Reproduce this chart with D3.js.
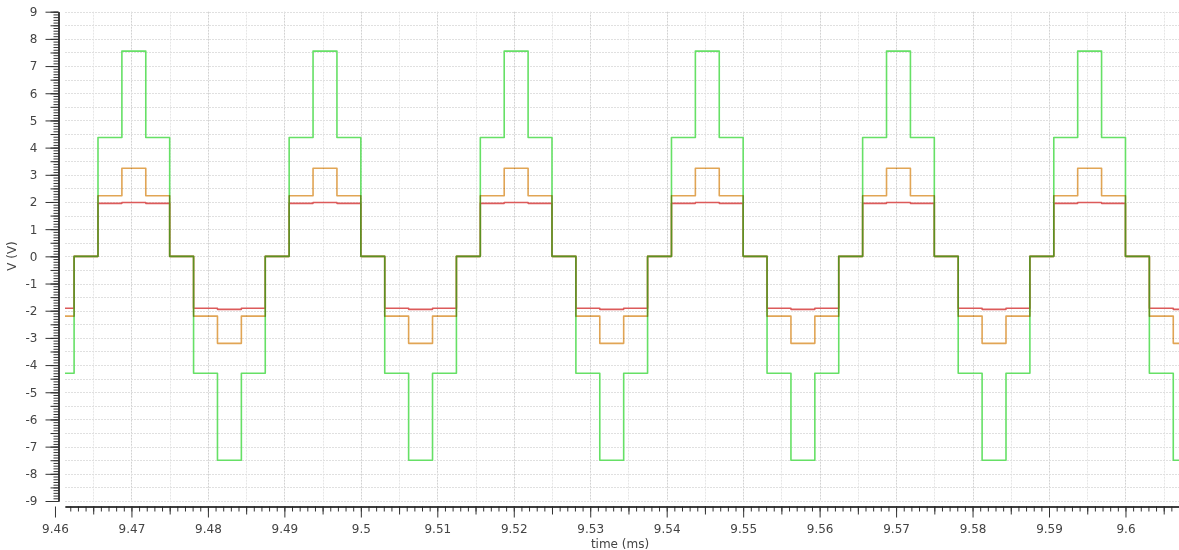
<!DOCTYPE html>
<html>
<head>
<meta charset="utf-8">
<script src="https://cdn.jsdelivr.net/npm/d3@7"></script>
<style>
  html, body { margin: 0; padding: 0; background: #fff; }
  svg { display: block; }
  text { font-family: "DejaVu Sans", sans-serif; }
</style>
</head>
<body>
<svg id="chart" width="1179" height="550"></svg>
<script>
// ---- data ----
const times = [9.46131,
  9.4625, 9.465625, 9.46875, 9.471875, 9.475, 9.478125, 9.48125, 9.484375,
  9.4875, 9.490625, 9.49375, 9.496875, 9.5, 9.503125, 9.50625, 9.509375,
  9.5125, 9.515625, 9.51875, 9.521875, 9.525, 9.528125, 9.53125, 9.534375,
  9.5375, 9.540625, 9.54375, 9.546875, 9.55, 9.553125, 9.55625, 9.559375,
  9.5625, 9.565625, 9.56875, 9.571875, 9.575, 9.578125, 9.58125, 9.584375,
  9.5875, 9.590625, 9.59375, 9.596875, 9.6, 9.603125, 9.60625,
  9.607];
const greenV = [-4.3,
  0, 4.37, 7.55, 4.37, 0, -4.3, -7.5, -4.3,
  0, 4.37, 7.55, 4.37, 0, -4.3, -7.5, -4.3,
  0, 4.37, 7.55, 4.37, 0, -4.3, -7.5, -4.3,
  0, 4.37, 7.55, 4.37, 0, -4.3, -7.5, -4.3,
  0, 4.37, 7.55, 4.37, 0, -4.3, -7.5, -4.3,
  0, 4.37, 7.55, 4.37, 0, -4.3, -7.5,
  -7.5];
const orangeV = [-2.2,
  0, 2.23, 3.24, 2.23, 0, -2.2, -3.2, -2.2,
  0, 2.23, 3.24, 2.23, 0, -2.2, -3.2, -2.2,
  0, 2.23, 3.24, 2.23, 0, -2.2, -3.2, -2.2,
  0, 2.23, 3.24, 2.23, 0, -2.2, -3.2, -2.2,
  0, 2.23, 3.24, 2.23, 0, -2.2, -3.2, -2.2,
  0, 2.23, 3.24, 2.23, 0, -2.2, -3.2,
  -3.2];
const redV = [-1.91,
  0, 1.95, 1.98, 1.95, 0, -1.91, -1.95, -1.91,
  0, 1.95, 1.98, 1.95, 0, -1.91, -1.95, -1.91,
  0, 1.95, 1.98, 1.95, 0, -1.91, -1.95, -1.91,
  0, 1.95, 1.98, 1.95, 0, -1.91, -1.95, -1.91,
  0, 1.95, 1.98, 1.95, 0, -1.91, -1.95, -1.91,
  0, 1.95, 1.98, 1.95, 0, -1.91, -1.95,
  -1.95];
const xTickLabels = ["9.46","9.47","9.48","9.49","9.5","9.51","9.52","9.53","9.54","9.55","9.56","9.57","9.58","9.59","9.6"];
const yTickLabels = [9,8,7,6,5,4,3,2,1,0,-1,-2,-3,-4,-5,-6,-7,-8,-9];

// ---- layout ----
const svg = d3.select("#chart");
svg.append("rect").attr("width", 1179).attr("height", 550).attr("fill", "#fff");

const x = d3.scaleLinear().domain([9.46131, 9.607]).range([65, 1179]);
const y = d3.scaleLinear().domain([-9, 9]).range([501, 11.7]);

const plotL = 65, plotR = 1179;

// grid
const grid = svg.append("g");
const vMinor = d3.range(0, 30).map(i => +(9.46 + i * 0.005).toFixed(3)).filter(t => t > 9.4615 && t < 9.607);
grid.selectAll("line.v").data(vMinor).join("line")
  .attr("x1", d => Math.round(x(d)) + 0.5).attr("x2", d => Math.round(x(d)) + 0.5)
  .attr("y1", y(9)).attr("y2", y(-9))
  .attr("stroke", d => (Math.round(d * 1000) % 10 === 0) ? "#d2d2d2" : "#e6e6e6")
  .attr("stroke-dasharray", "2,1");
const hLines = d3.range(0, 37).map(i => -9 + i * 0.5);
grid.selectAll("line.h").data(hLines).join("line")
  .attr("x1", plotL).attr("x2", plotR)
  .attr("y1", d => Math.round(y(d)) + 0.5).attr("y2", d => Math.round(y(d)) + 0.5)
  .attr("stroke", "#e0e0e0")
  .attr("stroke-dasharray", "2,1");

// traces
const mk = vals => times.map((t, i) => ({t, v: vals[i]}));
const line = d3.line().x(d => x(d.t)).y(d => y(d.v)).curve(d3.curveStepAfter);
const traces = svg.append("g").attr("fill", "none").attr("stroke-width", 1.6).attr("stroke-linejoin", "round");
traces.append("path").datum(mk(redV)).attr("d", line).attr("stroke", "#dc5a5a");
traces.append("path").datum(mk(greenV)).attr("d", line).attr("stroke", "#66e066");
traces.append("path").datum(mk(orangeV)).attr("d", line).attr("stroke", "#e1a555")
  .style("mix-blend-mode", "multiply");

// y axis
const yAxisG = svg.append("g").attr("transform", "translate(58.5,0)");
const yMinor = d3.range(0, 181).map(i => +(-9 + i * 0.1).toFixed(1));
yAxisG.append("g").call(d3.axisLeft(y).tickValues(yMinor).tickSize(5).tickSizeOuter(0).tickFormat(""));
yAxisG.append("g").call(d3.axisLeft(y).tickValues(d3.range(0, 37).map(i => -9 + i * 0.5)).tickSize(8).tickSizeOuter(0).tickFormat(""));
const yMaj = yAxisG.append("g").call(d3.axisLeft(y).tickValues(yTickLabels).tickSize(13).tickSizeOuter(0).tickPadding(8).tickFormat(d => String(d)));
yAxisG.selectAll("path.domain").attr("stroke", "#222");
yAxisG.selectAll(".tick line").attr("stroke", "#333");
yMaj.selectAll("text").attr("font-size", 12).attr("fill", "#444").attr("font-family", "DejaVu Sans, sans-serif");

// x axis
const xAxisG = svg.append("g").attr("transform", "translate(0,506.5)");
const xMinor = d3.range(0, 150).map(i => +(9.46 + i * 0.001).toFixed(3)).filter(t => t > 9.4614 && t < 9.607);
const xMid = d3.range(0, 30).map(i => +(9.465 + i * 0.01).toFixed(3)).filter(t => t < 9.607);
const xMajor = xTickLabels.map(Number);
xAxisG.append("g").call(d3.axisBottom(x).tickValues(xMinor).tickSize(5).tickSizeOuter(0).tickFormat(""));
xAxisG.append("g").call(d3.axisBottom(x).tickValues(xMid).tickSize(8).tickSizeOuter(0).tickFormat(""));
const xMaj = xAxisG.append("g").call(d3.axisBottom(x).tickValues(xMajor).tickSize(11).tickSizeOuter(0).tickPadding(7)
  .tickFormat((d, i) => xTickLabels[i]));
xAxisG.selectAll("path.domain").attr("stroke", "#222");
xAxisG.selectAll(".tick line").attr("stroke", "#333");
xMaj.selectAll("text").attr("font-size", 12).attr("fill", "#444").attr("font-family", "DejaVu Sans, sans-serif");

// axis titles
svg.append("text").attr("x", 620).attr("y", 548).attr("text-anchor", "middle")
  .attr("font-size", 12).attr("fill", "#444").text("time (ms)");
svg.append("text").attr("transform", "translate(16,256) rotate(-90)").attr("text-anchor", "middle")
  .attr("font-size", 12).attr("fill", "#444").text("V (V)");
</script>
</body>
</html>
